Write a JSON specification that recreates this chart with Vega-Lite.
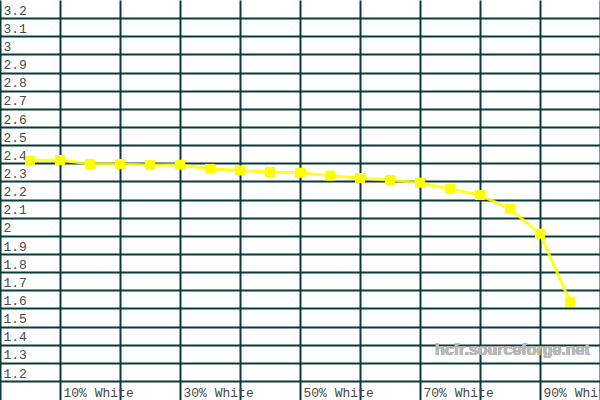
{
  "$schema": "https://vega.github.io/schema/vega-lite/v6.json",
  "width": 600,
  "height": 400,
  "autosize": {"type": "none"},
  "padding": 0,
  "background": "white",
  "config": {
    "view": {"stroke": null},
    "axisX": {"grid": true, "gridColor": "#0b3a3a", "gridWidth": 2, "gridOpacity": 1,
      "domain": false, "ticks": false, "labelPadding": -4, "labelBaseline": "alphabetic", "labelAlign": "left", "labelOffset": 3,
      "labelFont": "Liberation Mono", "labelFontSize": 13, "labelColor": "#4a4a4a", "labelOverlap": false, "labelBound": false, "labelFlush": false, "title": null},
    "axisY": {"grid": true, "gridColor": "#0b3a3a", "gridWidth": 2, "gridOpacity": 1,
      "domain": false, "ticks": false, "labelPadding": -3, "labelAlign": "left", "labelBaseline": "alphabetic", "labelOffset": -4,
      "labelFont": "Liberation Mono", "labelFontSize": 13, "labelColor": "#4a4a4a", "labelOverlap": false, "labelBound": false, "labelFlush": false, "title": null}
  },
  "data": {"values": [
    {"pct": 5, "gamma": 2.415},
    {"pct": 10, "gamma": 2.418},
    {"pct": 15, "gamma": 2.396},
    {"pct": 20, "gamma": 2.396},
    {"pct": 25, "gamma": 2.390},
    {"pct": 30, "gamma": 2.392},
    {"pct": 35, "gamma": 2.369},
    {"pct": 40, "gamma": 2.361},
    {"pct": 45, "gamma": 2.352},
    {"pct": 50, "gamma": 2.348},
    {"pct": 55, "gamma": 2.332},
    {"pct": 60, "gamma": 2.319},
    {"pct": 65, "gamma": 2.308},
    {"pct": 70, "gamma": 2.293},
    {"pct": 75, "gamma": 2.258},
    {"pct": 80, "gamma": 2.225},
    {"pct": 85, "gamma": 2.148},
    {"pct": 90, "gamma": 2.012},
    {"pct": 95, "gamma": 1.637}
  ]},
  "encoding": {
    "x": {"field": "pct", "type": "quantitative", "scale": {"domain": [0, 100], "nice": false},
      "axis": {"values": [0,10,20,30,40,50,60,70,80,90,100], "labelExpr": "datum.value % 20 == 10 ? datum.value + '% White' : ''", "zindex": 0}},
    "y": {"field": "gamma", "type": "quantitative", "scale": {"domain": [1.0953, 3.3], "nice": false, "zero": false},
      "axis": {"values": [1.2,1.3,1.4,1.5,1.6,1.7,1.8,1.9,2.0,2.1,2.2,2.3,2.4,2.5,2.6,2.7,2.8,2.9,3.0,3.1,3.2], "labelExpr": "'' + round(datum.value * 10) / 10", "zindex": 0}}
  },
  "layer": [
    {
      "mark": {"type": "text", "text": "hcfr.sourceforge.net", "font": "Liberation Sans", "fontSize": 16, "fontWeight": "bold", "color": "#b8b8b8", "align": "right", "baseline": "alphabetic"},
      "encoding": {
        "x": {"datum": 98.3, "type": "quantitative"},
        "y": {"datum": 1.343, "type": "quantitative"}
      }
    },
    {
      "mark": {"type": "line", "color": "#ffff00", "strokeWidth": 3, "opacity": 0.85}
    },
    {
      "mark": {"type": "point", "shape": "square", "filled": true, "color": "#ffff00", "size": 100, "opacity": 1}
    }
  ]
}
